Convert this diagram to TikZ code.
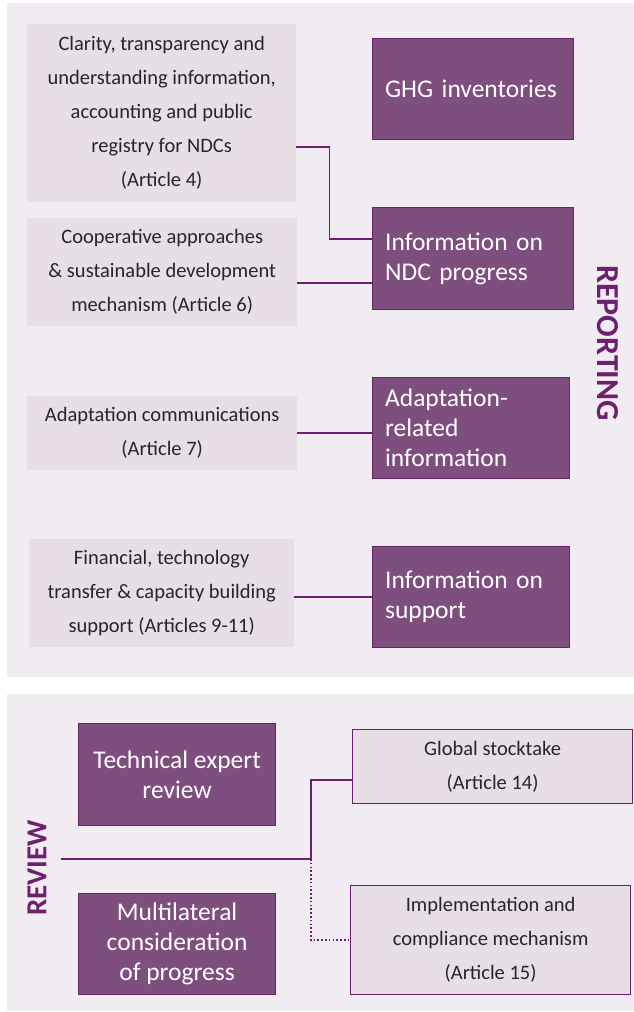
\documentclass[tikz,border=0pt]{standalone}
\usepackage{fontspec}
\setmainfont{Carlito}
\definecolor{panelbg}{HTML}{F1ECF2}
\definecolor{lightfill}{HTML}{E7DEE6}
\definecolor{darkfill}{HTML}{7E4E7E}
\definecolor{darkedge}{HTML}{6A2468}
\definecolor{connc}{HTML}{6B1F6E}
\definecolor{labelc}{HTML}{6E1F6E}
\usetikzlibrary{calc}
\tikzset{
  lightbox/.style={fill=lightfill, draw=none, inner sep=0pt, align=center, anchor=north west,
    font=\fontsize{20.5}{34}\selectfont, text=black!85},
  revbox/.style={lightbox, draw=connc, line width=1.2pt},
  darkbox/.style={fill=darkfill, draw=darkedge, line width=1.2pt, text=white, inner sep=0pt,
    anchor=north west, font=\fontsize{25.5}{30}\selectfont},
  conn/.style={draw=connc, line width=1.8pt},
  dotconn/.style={draw=connc, line width=1.6pt, dash pattern=on 1.6pt off 2.2pt},
  sidelabel/.style={text=labelc, inner sep=0pt}
}
\begin{document}
\begin{tikzpicture}[x=1pt,y=-1pt]
\useasboundingbox (0,0) rectangle (634,1012);
\fill[white] (0,0) rectangle (634,1012);
\fill[panelbg] (7,3) rectangle (634,677);
\fill[panelbg] (7,694) rectangle (634,1011);

% reporting
\node[lightbox, minimum width=269pt, minimum height=178pt] (clar) at (27,24)
  {Clarity, transparency and\\understanding information,\\accounting and public\\registry for NDCs\\(Article 4)};
\node[lightbox, minimum width=270pt, minimum height=108pt] (coop) at (27,218)
  {Cooperative approaches\\\& sustainable development\\mechanism (Article 6)};
\node[lightbox, minimum width=270pt, minimum height=74pt] (adc) at (27,396)
  {Adaptation communications\\(Article 7)};
\node[lightbox, minimum width=265pt, minimum height=108pt] (fin) at (29,539)
  {Financial, technology\\transfer \& capacity building\\support (Articles 9-11)};

\node[darkbox, minimum width=201pt, minimum height=101pt, text width=176pt, align=left] (ghg) at (372,38)
  {GHG inventories};
\node[darkbox, minimum width=201pt, minimum height=102pt, text width=176pt, align=left] (ndc) at (372,207)
  {Information on\\NDC progress};
\node[darkbox, minimum width=197pt, minimum height=101pt, text width=172pt, align=left] (adr) at (372,377)
  {Adaptation-\\related\\information};
\node[darkbox, minimum width=197pt, minimum height=101pt, text width=172pt, align=left] (sup) at (372,546)
  {Information on\\support};

\node[sidelabel, rotate=-90, font=\bfseries\fontsize{32}{32}\selectfont] (rep) at (608,343) {REPORTING};

\draw[conn] ([yshift=-34pt]clar.east) -- ++(33,0) |- ([yshift=20pt]ndc.west);
\draw[conn] ([yshift=-11pt]coop.east) -- ([yshift=-11pt]coop.east -| ndc.west);
\draw[conn] (adc.east) -- (adc.east -| adr.west);
\draw[conn] ([yshift=-4pt]fin.east) -- ([yshift=-4pt]fin.east -| sup.west);

% review
\node[darkbox, minimum width=197pt, minimum height=102pt, align=center] (ter) at (78,723)
  {Technical expert\\review};
\node[darkbox, minimum width=197pt, minimum height=101pt, align=center] (mcp) at (78,893)
  {Multilateral\\consideration\\of progress};
\node[revbox, minimum width=280pt, minimum height=74pt] (gst) at (352,729)
  {Global stocktake\\(Article 14)};
\node[revbox, minimum width=280pt, minimum height=109pt] (imc) at (350,885)
  {Implementation and\\compliance mechanism\\(Article 15)};

\node[sidelabel, rotate=90, font=\bfseries\fontsize{29}{29}\selectfont] (rev) at (37,868) {REVIEW};

\coordinate (rvstart) at (61,859);
\coordinate (junc) at (311,859);
\draw[conn] (rvstart) -- (junc) |- ([yshift=-13pt]gst.west);
\draw[dotconn] (junc) |- (imc.west);
\end{tikzpicture}
\end{document}
